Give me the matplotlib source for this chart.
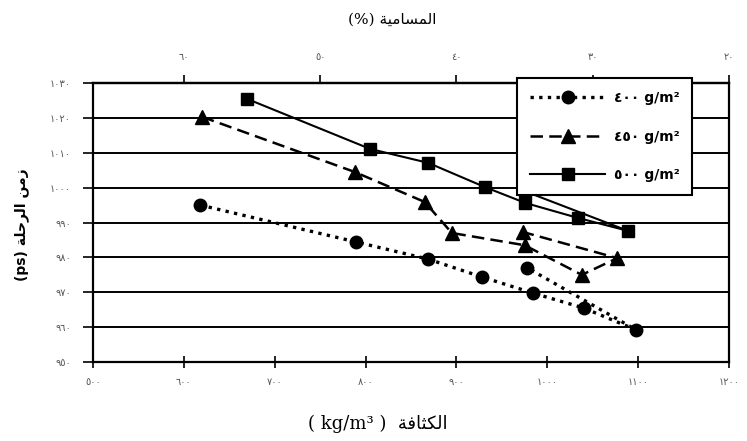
import matplotlib
matplotlib.use("Agg")
import matplotlib.pyplot as plt

# ---------------- data ----------------
density_ticks = [500, 600, 700, 800, 900, 1000, 1100, 1200]
density_tick_labels = ["٥٠٠", "٦٠٠", "٧٠٠", "٨٠٠", "٩٠٠", "١٠٠٠", "١١٠٠", "١٢٠٠"]
time_ticks = [950, 960, 970, 980, 990, 1000, 1010, 1020, 1030]
time_tick_labels = ["٩٥٠", "٩٦٠", "٩٧٠", "٩٨٠", "٩٩٠", "١٠٠٠", "١٠١٠", "١٠٢٠", "١٠٣٠"]
porosity_ticks = [60, 50, 40, 30, 20]
porosity_tick_labels = ["٦٠", "٥٠", "٤٠", "٣٠", "٢٠"]

series_names = ["٤٠٠", "٤٥٠", "٥٠٠"]

circ_density = [618, 790, 869, 928, 984, 1040, 1098, 978]
circ_time = [995.0, 984.4, 979.5, 974.4, 969.8, 965.5, 959.2, 977.0]

tri_density = [620, 788, 865, 895, 975, 1038, 1077, 973]
tri_time = [1020.3, 1004.5, 995.9, 987.0, 983.5, 975.0, 979.8, 987.3]

sq_density = [670, 805, 869, 931, 976, 1034, 1089, 975]
sq_time = [1025.4, 1011.1, 1007.1, 1000.2, 995.6, 991.3, 987.6, 999.0]

title_top = "المسامية"
title_bottom = "الكثافة"
title_left = "زمن الرحلة"

# ---------------- minimal Arabic shaping (presentation forms) ----------------
FORMS = {
    'ا': (0xFE8D, 0xFE8E, None, None),
    'ل': (0xFEDD, 0xFEDE, 0xFEDF, 0xFEE0),
    'م': (0xFEE1, 0xFEE2, 0xFEE3, 0xFEE4),
    'س': (0xFEB1, 0xFEB2, 0xFEB3, 0xFEB4),
    'ي': (0xFEF1, 0xFEF2, 0xFEF3, 0xFEF4),
    'ة': (0xFE93, 0xFE94, None, None),
    'ك': (0xFED9, 0xFEDA, 0xFEDB, 0xFEDC),
    'ث': (0xFE99, 0xFE9A, 0xFE9B, 0xFE9C),
    'ف': (0xFED1, 0xFED2, 0xFED3, 0xFED4),
    'ز': (0xFEAF, 0xFEB0, None, None),
    'ن': (0xFEE5, 0xFEE6, 0xFEE7, 0xFEE8),
    'ر': (0xFEAD, 0xFEAE, None, None),
    'ح': (0xFEA1, 0xFEA2, 0xFEA3, 0xFEA4),
}


def shape(text):
    out = []
    n = len(text)
    for i, c in enumerate(text):
        if c not in FORMS:
            out.append(c)
            continue
        iso, fin, ini, med = FORMS[c]
        joins_prev = i > 0 and text[i - 1] in FORMS and FORMS[text[i - 1]][2] is not None
        joins_next = i < n - 1 and text[i + 1] in FORMS and ini is not None
        if joins_prev and joins_next:
            code = med
        elif joins_prev:
            code = fin
        elif joins_next:
            code = ini
        else:
            code = iso
        out.append(chr(code))
    return "".join(reversed(out))


# ---------------- figure ----------------
fig = plt.figure(figsize=(7.47, 4.41), dpi=100)
ax = fig.add_axes([0.1245, 0.179, 0.8514, 0.6328])
ax.set_xlim(500, 1200)
ax.set_ylim(950, 1030)

tick_color = "#555555"
ax.set_xticks(density_ticks)
ax.set_xticklabels(density_tick_labels, fontsize=7, color=tick_color, family="DejaVu Sans")
ax.set_yticks(time_ticks)
ax.set_yticklabels(time_tick_labels, fontsize=7, color=tick_color, family="DejaVu Sans")
ax.tick_params(axis="x", direction="inout", length=9, width=1.2, pad=6)
ax.tick_params(axis="y", direction="out", length=7, width=1.2, pad=9)
ax.yaxis.grid(True, color="black", linewidth=1.4)
ax.set_axisbelow(True)
for s in ax.spines.values():
    s.set_linewidth(1.6)
    s.set_color("black")

sec = ax.secondary_xaxis(
    "top",
    functions=(lambda r: 100.0 * (1.0 - r / 1500.0), lambda p: 1500.0 * (1.0 - p / 100.0)),
)
sec.set_xticks(porosity_ticks)
sec.set_xticklabels(porosity_tick_labels, fontsize=7, color=tick_color, family="DejaVu Sans")
sec.tick_params(axis="x", direction="out", length=6, width=1.2, pad=9)
sec.spines["top"].set_linewidth(1.6)

ax.plot(circ_density, circ_time, linestyle=(0, (1, 1.6)), color="black", linewidth=2.4,
        marker="o", markersize=9, label=series_names[0] + " g/m²")
ax.plot(tri_density, tri_time, linestyle=(0, (5, 2.5)), color="black", linewidth=1.8,
        marker="^", markersize=9.5, label=series_names[1] + " g/m²")
ax.plot(sq_density, sq_time, linestyle="-", color="black", linewidth=1.5,
        marker="s", markersize=8.5, label=series_names[2] + " g/m²")

leg = ax.legend(loc="upper left", bbox_to_anchor=(517 / 747, 1 - 78 / 441),
                bbox_transform=fig.transFigure, borderaxespad=0.0, frameon=True,
                fancybox=False, edgecolor="black", framealpha=1.0, handlelength=5.4,
                borderpad=0.95, labelspacing=1.75, handletextpad=0.6,
                prop={"family": "DejaVu Sans", "size": 10, "weight": "bold"})
leg.get_frame().set_linewidth(1.5)
leg.set_zorder(10)

fig.text(392 / 747, 1 - 20 / 441, "(%) " + shape(title_top), ha="center", va="center",
         fontsize=11, family=["DejaVu Serif", "DejaVu Sans"])
fig.text(378 / 747, 1 - 424 / 441, "( kg/m³ )  " + shape(title_bottom), ha="center",
         va="center", fontsize=13, family=["DejaVu Serif", "DejaVu Sans"])
fig.text(22 / 747, 1 - 225 / 441, "(ps) " + shape(title_left), ha="center", va="center",
         rotation=90, fontsize=10, weight="bold", family=["DejaVu Sans"])

fig.savefig("out.png", dpi=100)
